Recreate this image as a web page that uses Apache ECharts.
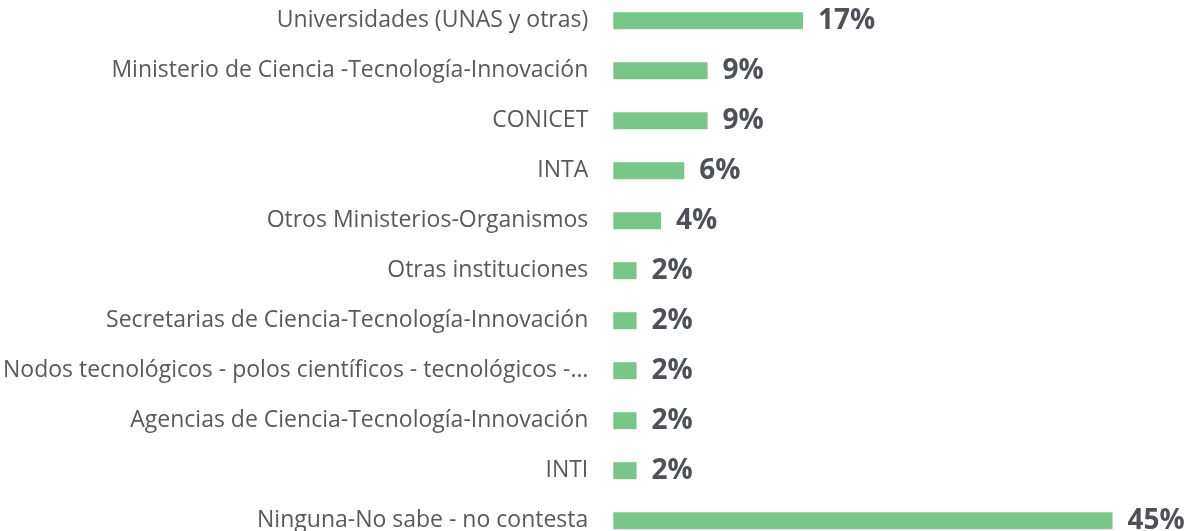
<!DOCTYPE html>
<html><head><meta charset="utf-8">
<script src="https://cdn.jsdelivr.net/npm/echarts@6/dist/echarts.min.js"></script>
<style>html,body{margin:0;padding:0;background:#fff;overflow:hidden;width:1186px;height:531px;position:relative}#c{position:absolute;left:0;top:-10px;width:1186px;height:570px}</style>
</head><body><div id="c"></div>
<script>
const categories = [
  "Universidades (UNAS y otras)",
  "Ministerio de Ciencia -Tecnología-Innovación",
  "CONICET",
  "INTA",
  "Otros Ministerios-Organismos",
  "Otras instituciones",
  "Secretarias de Ciencia-Tecnología-Innovación",
  "Nodos tecnológicos - polos científicos - tecnológicos -…",
  "Agencias de Ciencia-Tecnología-Innovación",
  "INTI",
  "Ninguna-No sabe - no contesta"
];
const values = [17.1, 8.5, 8.5, 6.4, 4.3, 2.1, 2.1, 2.1, 2.1, 2.1, 45.0];
const labels = ["17%", "9%", "9%", "6%", "4%", "2%", "2%", "2%", "2%", "2%", "45%"];

const chart = echarts.init(document.getElementById('c'), null, {renderer: 'canvas'});
chart.setOption({
  animation: false,
  grid: {left: 613, top: 5.7, width: 555, height: 550, containLabel: false},
  xAxis: {type: 'value', min: 0, max: 50, show: false},
  yAxis: {
    type: 'category', inverse: true, data: categories,
    axisLine: {show: false}, axisTick: {show: false}, splitLine: {show: false},
    axisLabel: {
      margin: 25, color: '#595959', fontFamily: 'Open Sans', fontSize: 23
    }
  },
  series: [{
    type: 'bar', data: values, barWidth: 17,
    itemStyle: {color: '#78C688'},
    label: {
      show: true, position: 'right', distance: 15,
      formatter: p => labels[p.dataIndex],
      color: '#4E505A', fontFamily: 'Open Sans', fontWeight: 'bold', fontSize: 28
    }
  }]
});
</script></body></html>
